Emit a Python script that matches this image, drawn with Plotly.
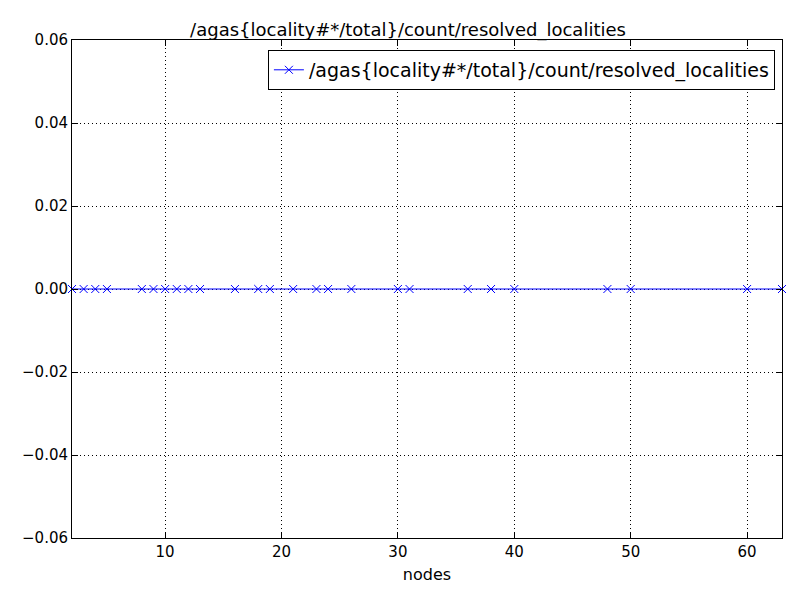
import plotly.graph_objects as go

# data
nodes = [2, 3, 4, 5, 8, 9, 10, 11, 12, 13, 16, 18, 19, 21, 23, 24, 26, 30, 31,
         36, 38, 40, 48, 50, 60, 63]
values = [0.0] * len(nodes)
series_name = "/agas{locality#*/total}/count/resolved_localities"
y_ticks = [-0.06, -0.04, -0.02, 0.0, 0.02, 0.04, 0.06]
y_labels = [f"{v:.2f}".replace("-", "\u2212") for v in y_ticks]

fig = go.Figure()
fig.add_trace(go.Scatter(
    x=nodes, y=values, mode="lines+markers", name=series_name,
    line=dict(color="#0000ff", width=1),
    marker=dict(symbol="x-thin", size=8, line=dict(color="#0000ff", width=1)),
    cliponaxis=False,
))

axis_common = dict(
    showline=True, linecolor="black", linewidth=1, mirror="ticks",
    ticks="inside", ticklen=6, tickcolor="black",
    showgrid=True, gridcolor="black", griddash="1px,3px", gridwidth=1,
    zeroline=False, tickfont=dict(size=15, color="black"),
)

fig.update_xaxes(range=[2, 63], tickvals=[10, 20, 30, 40, 50, 60],
                 title=dict(text="nodes", font=dict(size=16, color="black"), standoff=8),
                 **axis_common)
fig.update_yaxes(range=[-0.06, 0.06], tickvals=y_ticks, ticktext=y_labels,
                 **axis_common)

fig.update_layout(
    width=800, height=600,
    font=dict(family="DejaVu Sans", color="black"),
    title=dict(text=series_name, x=0.5, xanchor="center", y=0.975,
               font=dict(size=18, color="black")),
    paper_bgcolor="white", plot_bgcolor="white",
    margin=dict(l=64, r=26, t=32, b=70),
    showlegend=True,
    legend=dict(x=0.99, y=0.98, xanchor="right", yanchor="top",
                bordercolor="black", borderwidth=1, bgcolor="white",
                font=dict(size=19, color="black")),
)

fig.write_html("out.html")
